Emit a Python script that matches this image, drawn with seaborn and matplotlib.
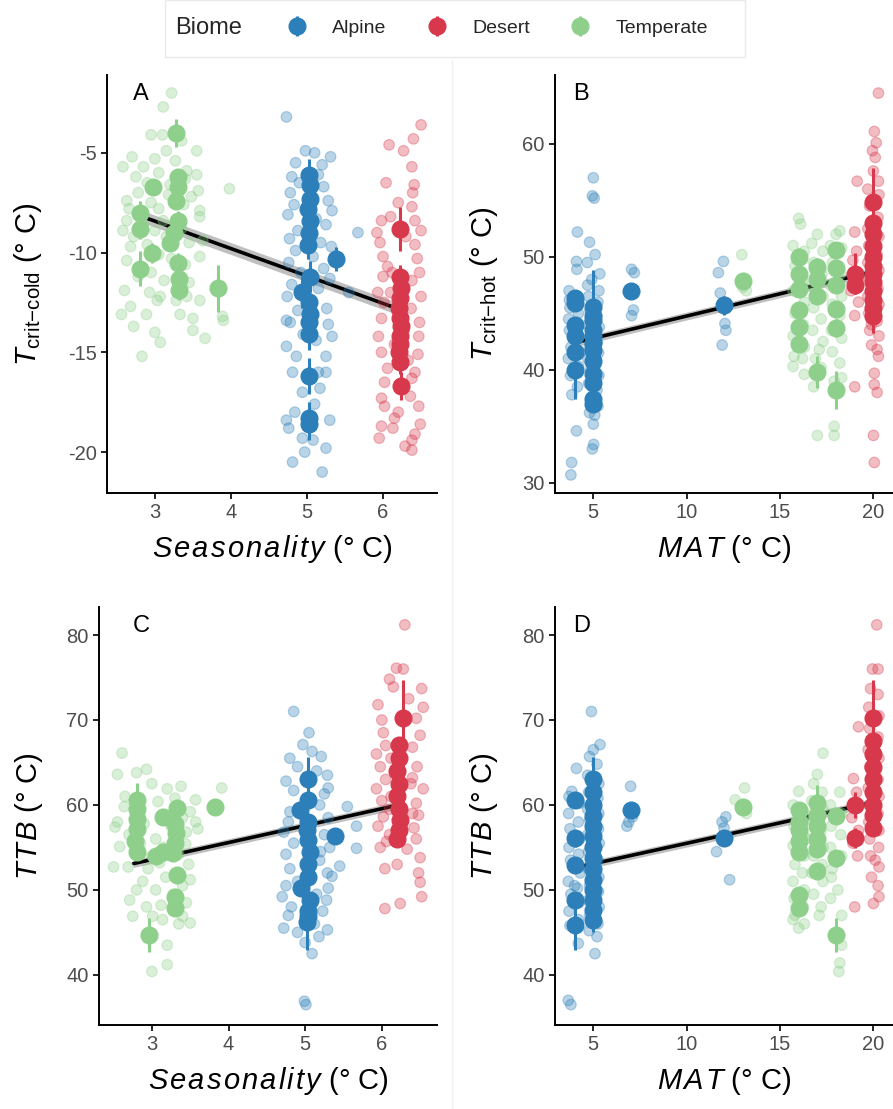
import numpy as np
import pandas as pd
import matplotlib
matplotlib.use("Agg")
import matplotlib.pyplot as plt
import seaborn as sns
from matplotlib.lines import Line2D
from matplotlib.patches import Rectangle

# colours for the three biomes
PALETTE = {"Alpine": "#2C7FB8", "Desert": "#D7384B", "Temperate": "#8ED08B"}
BIOMES = ["Alpine", "Desert", "Temperate"]

# ---------------- Panel A: Tcrit-cold vs seasonality ----------------
a_alpine = [(4.73,-3.2),(4.98,-4.9),(5.31,-5.2),(5.10,-5.0),(4.85,-5.5),(5.20,-5.6),(4.80,-6.2),
            (5.22,-6.7),(4.90,-6.5),(5.15,-6.1),(4.78,-7.0),(5.05,-7.2),(5.28,-7.4),(4.83,-7.6),
            (5.33,-7.9),(4.75,-8.1),(5.12,-8.3),(5.25,-8.6),(4.88,-8.9),(5.67,-9.0),(4.77,-9.3),
            (5.18,-9.5),(5.32,-9.7),(4.85,-9.9),(5.08,-10.2),(4.76,-10.5),(5.22,-10.8),(4.92,-11.0),
            (5.30,-11.3),(4.80,-11.6),(5.15,-11.8),(5.55,-12.0),(4.74,-12.2),(5.05,-12.5),(5.26,-12.8),
            (4.73,-13.4),(4.78,-13.5),(5.33,-14.2),(4.73,-14.7),(4.81,-16.0),(4.86,-15.2),(5.25,-15.2),
            (5.15,-16.0),(5.25,-16.0),(4.94,-17.0),(5.17,-16.8),(4.73,-18.4),(4.76,-18.8),(4.94,-19.3),
            (5.08,-19.4),(5.25,-19.8),(4.97,-20.0),(4.81,-20.5),(5.20,-21.0),(5.02,-13.0),(4.95,-14.1),
            (5.12,-14.4),(5.28,-13.6),(4.88,-12.9),(5.10,-17.6),(4.84,-18.0),(5.30,-18.4)]
a_desert = [(6.50,-3.6),(6.40,-4.3),(6.08,-4.6),(6.27,-4.9),(6.38,-5.7),(6.04,-6.5),(6.41,-6.6),
            (6.39,-7.0),(6.20,-7.5),(6.38,-7.7),(5.98,-8.4),(6.10,-8.2),(6.42,-8.4),(6.50,-8.9),
            (5.92,-9.0),(5.96,-9.5),(6.00,-10.2),(6.06,-10.7),(6.42,-9.6),(6.45,-10.3),(5.93,-12.0),
            (6.01,-12.5),(6.38,-11.4),(6.50,-12.2),(6.37,-12.8),(5.98,-13.3),(6.48,-13.5),(5.94,-14.2),
            (6.47,-14.2),(5.98,-15.0),(6.46,-15.1),(6.06,-15.8),(6.42,-16.0),(6.02,-16.5),(6.38,-16.3),
            (5.98,-17.3),(6.36,-17.2),(6.20,-18.0),(6.02,-17.7),(6.47,-17.7),(5.98,-18.7),(6.13,-18.8),
            (6.49,-18.6),(5.95,-19.3),(6.42,-19.1),(6.38,-19.4),(6.29,-19.7),(6.38,-19.9),(6.15,-18.3),
            (6.30,-9.2),(6.12,-11.0),(6.28,-13.9),(6.15,-14.6),(6.33,-15.4),(6.10,-12.0),(6.48,-11.0),
            (6.00,-11.2)]
a_temperate = [(3.22,-2.0),(3.11,-2.7),(2.95,-4.1),(3.10,-4.1),(3.15,-4.9),(3.55,-4.9),(3.00,-5.3),
               (2.58,-5.7),(2.85,-5.7),(3.27,-5.4),(3.42,-5.9),(3.98,-6.8),(3.57,-6.9),(2.63,-7.4),
               (2.66,-7.8),(3.59,-7.9),(3.11,-8.4),(3.59,-8.2),(2.63,-8.4),(2.58,-8.9),(2.68,-9.7),
               (3.63,-9.4),(3.59,-10.2),(2.63,-10.4),(2.60,-11.9),(2.68,-12.7),(3.07,-12.2),(3.59,-12.4),
               (3.89,-13.2),(2.56,-13.1),(2.72,-13.7),(2.89,-13.1),(3.00,-14.0),(3.07,-14.5),(2.83,-15.2),
               (3.03,-12.4),(3.33,-13.1),(3.50,-13.3),(3.50,-13.9),(3.66,-14.3),(3.90,-13.4),(3.42,-12.2),
               (2.75,-6.2),(2.90,-6.5),(3.05,-6.0),(3.20,-6.6),(3.40,-6.3),(3.48,-7.2),(2.78,-7.0),
               (2.95,-7.5),(3.05,-7.8),(3.18,-7.1),(3.38,-7.6),(2.85,-8.6),(3.00,-8.9),(3.15,-9.2),
               (3.35,-8.8),(3.45,-9.5),(2.72,-9.2),(2.90,-9.6),(3.05,-10.1),(3.22,-10.3),(3.40,-10.6),
               (2.78,-11.2),(2.95,-11.0),(3.12,-11.4),(3.45,-11.5),(3.28,-12.4),(2.93,-12.0),(3.55,-6.1),
               (2.70,-5.2),(3.35,-4.4)]
# species means: (x, mean, se)
a_mean_alpine = [(5.03,-6.1,0.8),(5.04,-6.6,0.7),(5.04,-7.3,0.7),(5.02,-7.8,0.7),(5.04,-8.4,0.7),
                 (5.03,-9.0,0.7),(5.02,-9.6,0.7),(5.04,-11.2,0.8),(4.94,-12.0,0.8),(5.03,-12.5,0.8),
                 (5.04,-13.1,0.7),(5.03,-13.5,0.7),(5.03,-14.1,0.8),(5.03,-16.2,0.9),(5.03,-18.3,0.8),
                 (5.03,-18.6,0.8),(5.38,-10.3,0.6)]
a_mean_desert = [(6.22,-8.8,1.1),(6.22,-11.2,0.6),(6.23,-11.8,0.6),(6.22,-12.3,0.6),(6.21,-12.8,0.6),
                 (6.22,-13.3,0.6),(6.23,-13.7,0.6),(6.22,-14.2,0.6),(6.22,-14.6,0.6),(6.21,-15.0,0.6),
                 (6.22,-15.5,0.6),(6.23,-16.7,0.7)]
a_mean_temperate = [(3.28,-4.0,0.7),(2.97,-6.7,0.4),(2.80,-8.0,0.6),(2.80,-8.8,0.5),(2.96,-10.0,0.5),
                    (2.80,-10.8,0.9),(3.30,-6.2,0.4),(3.30,-6.7,0.4),(3.28,-7.4,0.4),(3.30,-8.4,0.5),
                    (3.25,-9.0,0.5),(3.20,-9.5,0.4),(3.30,-10.5,0.5),(3.32,-11.3,0.5),(3.32,-11.9,0.5),
                    (3.83,-11.8,1.2)]
a_fit_x = [2.80, 6.22]
a_fit_y = [-8.15, -12.85]

# ---------------- Panel B: Tcrit-hot vs MAT ----------------
b_alpine = [(3.84,31.8),(3.80,30.7),(4.10,34.6),(5.00,35.2),(5.02,33.4),(4.95,33.0),(5.00,57.0),
            (4.95,55.4),(5.05,55.2),(4.15,52.2),(4.80,51.3),(4.10,49.6),(4.12,48.9),(7.05,48.9),
            (7.20,48.6),(7.05,44.8),(7.15,45.3),(11.97,49.6),(11.70,48.6),(11.80,46.8),(12.05,44.1),
            (12.10,43.5),(11.90,42.2),(3.70,47.0),(3.75,45.5),(3.68,44.5),(4.20,45.0),(3.72,43.5),
            (4.25,43.0),(3.80,42.0),(4.30,41.5),(3.66,41.0),(4.22,40.3),(3.78,39.5),(4.15,38.5),
            (3.85,37.8),(3.72,46.2),(4.70,47.5),(5.30,47.0),(4.75,46.5),(5.25,46.0),(4.82,45.2),
            (5.18,44.8),(4.72,44.0),(5.32,43.8),(4.88,43.0),(5.22,42.5),(4.78,42.0),(5.28,41.5),
            (4.70,41.0),(5.15,40.5),(4.85,40.0),(5.30,39.5),(4.75,38.8),(5.20,38.2),(4.90,37.5),
            (5.25,36.8),(4.80,36.2),(5.35,48.5),(4.68,49.5),(5.10,50.2),(4.92,48.0),(5.08,36.0)]
b_desert = [(19.00,52.2),(19.10,50.5),(18.90,49.7),(19.00,44.8),(19.00,38.5),(20.27,64.5),(20.05,61.1),
            (20.15,60.1),(19.95,59.4),(20.10,58.8),(20.00,57.6),(20.27,56.7),(19.13,56.7),(20.20,41.8),
            (20.27,41.2),(20.05,39.7),(20.05,38.7),(20.20,38.0),(20.00,34.2),(20.05,31.8),(19.70,56.0),
            (20.30,55.5),(19.80,54.5),(20.25,53.5),(19.70,52.5),(20.30,51.8),(19.75,51.0),(20.20,50.2),
            (19.70,49.5),(20.30,48.8),(19.80,48.0),(20.25,47.2),(19.70,46.5),(20.30,45.8),(19.75,45.0),
            (20.20,44.3),(19.80,43.5),(20.30,43.0),(19.90,42.2),(20.10,53.0),(19.90,50.0),(20.15,47.0),
            (19.90,44.0),(19.20,48.0),(18.80,47.0),(19.20,46.0)]
b_temperate = [(12.95,50.2),(13.00,47.3),(13.20,47.0),(16.00,53.4),(16.10,52.9),(17.00,52.0),(18.00,52.0),
               (18.20,52.3),(15.70,40.3),(16.30,39.6),(17.00,34.2),(17.90,35.0),(17.90,34.2),(17.80,41.6),
               (18.20,40.6),(18.30,39.3),(15.70,51.0),(16.30,50.5),(15.80,49.2),(16.20,48.0),(15.70,47.0),
               (16.30,46.0),(15.80,45.0),(16.25,44.0),(15.70,43.0),(16.30,42.0),(15.75,41.2),(16.20,41.0),
               (15.90,50.0),(16.70,51.2),(17.30,50.5),(16.80,49.5),(17.25,48.5),(16.70,47.5),(17.30,46.5),
               (16.80,45.5),(17.20,44.5),(16.75,43.5),(17.30,42.5),(17.10,41.8),(16.90,41.0),(17.20,40.2),
               (16.80,38.5),(17.70,51.0),(18.30,50.8),(17.80,49.5),(18.25,48.5),(17.70,47.5),(18.30,46.5),
               (17.80,45.8),(18.20,44.8),(17.75,43.5),(18.30,42.8),(17.90,39.0),(18.10,38.0)]
b_mean_alpine = [(4.0,46.4,0.7),(4.0,45.9,0.6),(4.0,44.0,0.6),(4.0,43.0,0.6),(4.0,41.6,0.7),(4.0,40.0,2.6),
                 (5.0,45.6,3.2),(5.0,44.8,0.7),(5.0,44.4,0.7),(5.0,43.5,0.7),(5.0,43.0,0.7),(5.0,42.4,0.7),
                 (5.0,41.8,0.7),(5.0,40.8,0.7),(5.0,39.6,0.7),(5.0,38.8,0.7),(5.0,37.4,0.7),(5.0,37.0,0.7),
                 (7.0,47.0,0.4),(12.0,45.7,0.8)]
b_mean_desert = [(19.0,48.5,1.8),(19.0,47.5,0.8),(20.0,54.9,3.0),(20.0,53.0,0.9),(20.0,52.0,0.9),
                 (20.0,51.0,0.9),(20.0,50.0,0.9),(20.0,49.2,0.9),(20.0,48.5,0.9),(20.0,47.8,0.9),
                 (20.0,47.0,0.9),(20.0,46.2,0.9),(20.0,45.5,0.9),(20.0,44.8,1.5)]
b_mean_temperate = [(13.0,47.9,0.4),(16.0,50.0,0.8),(16.0,48.5,0.6),(16.0,47.2,0.6),(16.0,45.3,0.6),
                    (16.0,43.8,0.6),(16.0,42.3,0.7),(17.0,49.1,0.8),(17.0,48.0,0.6),(17.0,46.5,0.6),
                    (17.0,39.8,1.4),(18.0,50.6,0.7),(18.0,49.0,0.6),(18.0,47.5,0.6),(18.0,45.4,0.6),
                    (18.0,43.7,0.8),(18.0,38.2,1.7)]
b_fit_x = [4.0, 20.0]
b_fit_y = [42.4, 48.7]

# ---------------- Panel C: TTB vs seasonality ----------------
c_alpine = [(4.85,71.0),(4.97,67.1),(5.09,66.3),(5.21,65.7),(4.80,65.5),(5.29,63.5),(4.85,61.7),
            (5.25,61.3),(5.19,60.0),(4.80,59.2),(5.67,57.5),(5.67,54.9),(5.29,52.0),(5.35,51.6),
            (4.70,49.2),(4.72,45.5),(5.29,45.3),(5.23,47.5),(5.09,42.5),(4.99,36.9),(5.01,36.5),
            (4.80,52.5),(5.19,53.5),(4.75,62.8),(5.30,62.0),(4.90,64.5),(5.15,64.0),(4.78,58.0),
            (5.30,58.5),(4.72,56.8),(5.25,56.5),(4.85,55.5),(5.32,55.0),(4.75,54.2),(5.20,54.5),
            (4.90,51.0),(5.30,50.2),(4.75,50.5),(5.15,49.5),(4.82,48.0),(5.28,48.8),(4.78,47.0),
            (5.12,46.0),(4.90,45.0),(5.18,44.5),(5.00,43.8),(5.05,68.5),(5.55,59.8),(5.45,52.8)]
c_desert = [(6.30,81.2),(6.19,76.1),(6.28,76.0),(6.15,73.9),(6.52,73.7),(5.95,71.8),(6.54,71.5),
            (6.02,68.5),(6.50,68.2),(5.93,66.0),(6.46,64.5),(5.93,61.9),(6.54,61.9),(6.02,58.6),
            (6.48,58.8),(6.06,55.7),(6.45,56.0),(6.50,53.8),(6.48,52.0),(6.04,52.5),(6.50,50.9),
            (6.52,49.2),(6.04,47.8),(6.24,48.4),(6.20,53.0),(6.33,54.8),(6.00,70.0),(6.45,70.2),
            (6.05,67.0),(6.40,66.8),(5.98,64.5),(6.40,63.2),(6.05,63.0),(6.00,60.5),(6.45,60.2),
            (6.10,59.5),(5.95,57.5),(6.42,57.3),(6.10,56.5),(6.38,62.5),(6.12,65.5),(6.35,72.5),
            (6.10,74.8),(6.40,59.0),(5.98,55.0),(6.12,61.0)]
c_temperate = [(2.61,66.1),(2.55,63.6),(2.80,63.8),(2.93,64.2),(3.00,62.5),(3.20,61.9),(3.38,62.2),
               (3.91,62.0),(3.57,60.6),(2.55,58.0),(2.64,59.8),(3.08,60.4),(3.50,59.2),(3.57,58.0),
               (2.52,57.4),(2.58,55.1),(2.50,52.7),(2.69,52.7),(2.80,50.0),(2.71,48.8),(2.75,46.9),
               (2.93,48.0),(3.01,46.9),(3.14,46.5),(3.20,43.5),(3.20,41.2),(3.00,40.4),(3.35,46.0),
               (3.50,46.1),(3.40,46.9),(3.50,51.2),(3.48,53.0),(3.44,55.4),(3.60,57.2),(2.70,56.5),
               (2.90,57.8),(3.05,56.0),(3.15,55.0),(3.25,57.5),(3.40,58.5),(2.85,55.5),(3.00,54.0),
               (3.10,53.2),(3.35,54.2),(2.95,52.5),(3.18,51.5),(3.40,50.5),(2.88,51.0),(3.05,50.0),
               (3.28,49.5),(3.12,48.2),(3.45,48.5),(2.65,61.0),(3.30,60.8),(3.45,56.8)]
c_mean_alpine = [(5.04,63.1,2.6),(4.93,59.4,1.0),(5.04,60.6,0.8),(5.04,58.0,0.8),(5.02,57.0,0.8),
                 (5.04,55.9,0.8),(5.06,54.5,0.8),(5.04,53.0,0.8),(5.04,51.5,0.8),(4.95,50.2,0.8),
                 (5.06,48.8,0.8),(5.04,47.5,0.8),(5.04,46.9,0.8),(5.02,46.2,3.3),(5.39,56.3,0.6)]
c_mean_desert = [(6.28,70.2,4.5),(6.22,67.0,1.0),(6.22,65.5,1.0),(6.20,64.0,1.0),(6.22,62.5,1.0),
                 (6.20,61.0,1.0),(6.22,59.5,1.0),(6.24,58.2,1.0),(6.22,57.0,1.0),(6.20,56.0,1.0)]
c_mean_temperate = [(2.80,60.6,2.0),(2.80,59.5,1.0),(2.80,58.4,1.0),(2.80,57.2,1.0),(2.78,55.8,0.8),
                    (2.80,54.5,0.8),(3.15,58.6,0.7),(3.33,59.6,1.0),(3.30,57.8,0.8),(3.32,56.7,0.8),
                    (3.30,55.5,0.8),(3.28,54.3,0.6),(3.05,54.0,0.6),(3.15,54.5,0.6),(3.33,51.8,0.8),
                    (3.30,49.2,0.8),(3.30,47.9,0.8),(3.83,59.8,0.5),(2.96,44.7,2.0)]
c_fit_x = [2.76, 6.22]
c_fit_y = [53.1, 60.0]

# ---------------- Panel D: TTB vs MAT ----------------
d_alpine = [(3.70,61.0),(3.85,61.6),(4.10,64.3),(4.25,60.2),(3.68,59.0),(4.20,58.0),(3.75,57.2),
            (4.28,56.0),(3.70,55.0),(4.22,54.2),(3.78,53.5),(4.30,52.0),(3.66,51.0),(4.15,50.2),
            (3.80,49.5),(4.25,48.5),(3.70,47.5),(4.20,46.5),(3.75,45.8),(4.20,43.7),(3.66,37.0),
            (3.80,36.5),(4.00,50.5),(4.90,71.0),(5.36,67.1),(5.00,66.5),(4.80,65.7),(5.20,64.8),
            (4.70,63.5),(5.30,62.5),(4.75,61.5),(5.25,60.8),(4.70,59.5),(5.30,59.0),(4.80,58.2),
            (5.28,57.2),(4.70,56.5),(5.32,55.5),(4.75,54.5),(5.25,53.5),(4.72,52.5),(5.30,51.5),
            (4.80,50.5),(5.28,49.8),(4.72,48.8),(5.32,48.0),(4.80,47.0),(5.25,46.0),(4.78,45.2),
            (5.20,44.5),(5.09,42.5),(5.00,57.8),(5.10,52.0),(7.00,62.2),(6.90,58.0),(6.80,57.5),
            (7.10,58.6),(12.10,58.6),(11.90,58.0),(12.30,51.2),(11.60,54.5),(12.00,57.3)]
d_desert = [(18.93,63.1),(19.20,69.2),(19.10,61.5),(18.85,58.5),(19.20,57.0),(18.90,55.5),(19.15,54.0),
            (19.00,48.0),(20.18,81.2),(19.95,76.0),(20.25,76.0),(19.85,73.7),(20.25,73.0),(19.75,71.5),
            (20.30,70.5),(19.80,69.0),(20.25,68.0),(19.72,66.5),(20.30,65.5),(19.80,64.5),(20.25,63.0),
            (19.72,62.0),(20.30,61.0),(19.80,60.0),(20.25,59.0),(19.75,58.0),(20.30,57.0),(19.80,56.0),
            (20.28,55.0),(19.85,54.0),(20.30,52.7),(19.90,51.5),(20.25,50.5),(20.00,48.4),(20.30,49.2),
            (20.10,53.5)]
d_temperate = [(13.10,62.0),(12.60,60.6),(13.20,59.0),(16.00,61.6),(15.70,60.0),(16.30,59.0),(15.75,57.5),
               (16.25,56.5),(15.70,55.2),(16.30,54.0),(15.80,53.0),(16.20,52.0),(15.70,51.0),(16.30,50.0),
               (15.75,49.0),(16.25,48.0),(15.80,47.0),(16.30,46.0),(15.70,46.5),(16.00,45.5),(17.30,66.1),
               (17.00,63.6),(16.80,62.5),(17.25,61.5),(16.70,60.5),(17.30,59.5),(16.75,58.2),(17.20,57.0),
               (16.70,56.0),(17.30,55.0),(16.80,54.0),(17.25,53.0),(16.70,52.0),(17.30,51.0),(16.80,49.5),
               (17.20,48.0),(17.10,47.0),(18.20,61.5),(17.70,60.0),(18.30,59.0),(17.75,57.5),(18.25,56.5),
               (17.70,55.0),(18.30,54.0),(17.80,52.5),(18.10,50.0),(17.70,49.0),(18.30,43.5),(18.20,41.4),
               (18.15,40.4),(17.75,51.5),(18.30,47.0)]
d_mean_alpine = [(4.0,60.6,0.8),(4.0,56.1,1.0),(4.0,52.9,0.9),(4.0,48.8,1.0),(4.0,45.9,3.0),
                 (5.0,63.1,2.6),(5.0,61.5,0.8),(5.0,60.0,0.8),(5.0,58.7,0.8),(5.0,57.5,0.8),(5.0,56.3,0.8),
                 (5.0,55.0,0.8),(5.0,53.8,0.8),(5.0,52.5,0.8),(5.0,51.2,0.8),(5.0,50.0,0.8),(5.0,48.8,0.8),
                 (5.0,47.6,0.8),(5.0,46.5,1.5),(7.0,59.4,0.6),(12.0,56.1,0.6)]
d_mean_desert = [(19.0,60.0,1.5),(19.0,56.1,1.2),(20.0,70.2,4.5),(20.0,67.5,1.0),(20.0,66.0,1.0),
                 (20.0,64.5,1.0),(20.0,63.0,1.0),(20.0,61.5,1.0),(20.0,60.0,1.0),(20.0,58.8,1.0),
                 (20.0,57.3,1.0)]
d_mean_temperate = [(13.0,59.8,0.4),(16.0,59.4,0.8),(16.0,58.0,0.8),(16.0,57.0,0.8),(16.0,55.8,0.8),
                    (16.0,54.5,0.8),(16.0,49.4,0.8),(16.0,47.9,0.8),(17.0,60.2,2.2),(17.0,58.8,0.8),
                    (17.0,57.5,0.8),(17.0,56.0,0.8),(17.0,54.8,0.8),(17.0,52.2,0.8),(18.0,58.7,0.8),
                    (18.0,53.7,1.0),(18.0,44.7,2.0)]
d_fit_x = [4.0, 20.0]
d_fit_y = [52.6, 60.3]


def to_frame(groups):
    rows = []
    for biome, pts in groups.items():
        for x, y in pts:
            rows.append((biome, x, y))
    return pd.DataFrame(rows, columns=["biome", "x", "y"])


def spaced(word, gap=0.09):
    # italic word with a little letter spacing, like R plotmath italics
    sep = r"\hspace{%.2f}" % gap
    return "$" + sep.join(r"\mathit{%s}" % ch for ch in word) + "$"


def draw_panel(ax, raw, means, fit_x, fit_y, band, letter, letter_x, xlim, ylim, xticks, yticks):
    fy = np.array(fit_y)
    ax.fill_between(fit_x, fy - band, fy + band, color="#8c8c8c", alpha=0.55, lw=0, zorder=1)
    ax.plot(fit_x, fit_y, color="black", lw=2.6, zorder=1.5)

    df = to_frame(raw)
    sns.scatterplot(data=df, x="x", y="y", hue="biome", palette=PALETTE, s=58,
                    alpha=0.33, edgecolor="face", linewidth=0.9, legend=False, ax=ax, zorder=2)

    handles = {}
    for biome in BIOMES:
        m = np.array(means[biome])
        h = ax.errorbar(m[:, 0], m[:, 1], yerr=m[:, 2], fmt="o", color=PALETTE[biome],
                        ms=12, elinewidth=2.2, capsize=0, zorder=3)
        handles[biome] = h

    ax.set_xlim(*xlim)
    ax.set_ylim(*ylim)
    ax.set_xticks(xticks)
    ax.set_yticks(yticks)
    sns.despine(ax=ax)
    for sp in ["left", "bottom"]:
        ax.spines[sp].set_linewidth(1.4)
        ax.spines[sp].set_color("black")
    ax.tick_params(length=4, width=1.2, color="black", labelcolor="#4D4D4D", labelsize=14.5)
    ax.text(letter_x, 0.955, letter, transform=ax.transAxes, fontsize=17,
            ha="left", va="center", color="black")
    return handles


sns.set_theme(style="ticks")
plt.rcParams["font.family"] = ["Liberation Sans", "DejaVu Sans"]
plt.rcParams["mathtext.fontset"] = "custom"
plt.rcParams["mathtext.rm"] = "Liberation Sans"
plt.rcParams["mathtext.it"] = "Liberation Sans:italic"
plt.rcParams["mathtext.bf"] = "Liberation Sans:bold"
plt.rcParams["axes.unicode_minus"] = False

fig = plt.figure(figsize=(8.93, 11.09), dpi=100)
H = 1109.0
W = 893.0
ax_a = fig.add_axes([107 / W, 1 - 493 / H, 330 / W, 418 / H])
ax_b = fig.add_axes([555 / W, 1 - 493 / H, 338 / W, 418 / H])
ax_c = fig.add_axes([99 / W, 1 - 1025 / H, 338 / W, 418 / H])
ax_d = fig.add_axes([555 / W, 1 - 1025 / H, 338 / W, 418 / H])

handles = draw_panel(ax_a, {"Temperate": a_temperate, "Alpine": a_alpine, "Desert": a_desert},
                     {"Alpine": a_mean_alpine, "Desert": a_mean_desert, "Temperate": a_mean_temperate},
                     a_fit_x, a_fit_y, 0.3, "A", 0.08, (2.37, 6.71), (-22.05, -1.1),
                     [3, 4, 5, 6], [-20, -15, -10, -5])
draw_panel(ax_b, {"Alpine": b_alpine, "Temperate": b_temperate, "Desert": b_desert},
           {"Alpine": b_mean_alpine, "Desert": b_mean_desert, "Temperate": b_mean_temperate},
           b_fit_x, b_fit_y, 0.35, "B", 0.053, (2.95, 21.05), (29.1, 66.1),
           [5, 10, 15, 20], [30, 40, 50, 60])
draw_panel(ax_c, {"Temperate": c_temperate, "Alpine": c_alpine, "Desert": c_desert},
           {"Alpine": c_mean_alpine, "Desert": c_mean_desert, "Temperate": c_mean_temperate},
           c_fit_x, c_fit_y, 0.45, "C", 0.10, (2.31, 6.72), (34.1, 83.3),
           [3, 4, 5, 6], [40, 50, 60, 70, 80])
draw_panel(ax_d, {"Alpine": d_alpine, "Temperate": d_temperate, "Desert": d_desert},
           {"Alpine": d_mean_alpine, "Desert": d_mean_desert, "Temperate": d_mean_temperate},
           d_fit_x, d_fit_y, 0.45, "D", 0.053, (2.95, 21.05), (34.1, 83.3),
           [5, 10, 15, 20], [40, 50, 60, 70, 80])

lab_kw = dict(fontsize=21, color="black")
ax_a.set_ylabel(r"$\mathit{T}_{\mathrm{crit{-}cold}}$" + " (° C)", **lab_kw)
ax_b.set_ylabel(r"$\mathit{T}_{\mathrm{crit{-}hot}}$" + " (° C)", **lab_kw)
ax_c.set_ylabel(spaced("TTB") + " (° C)", **lab_kw)
ax_d.set_ylabel(spaced("TTB") + " (° C)", **lab_kw)
ax_a.set_xlabel(spaced("Seasonality") + " (° C)", **lab_kw)
ax_c.set_xlabel(spaced("Seasonality") + " (° C)", **lab_kw)
ax_b.set_xlabel(spaced("MAT") + " (° C)", **lab_kw)
ax_d.set_xlabel(spaced("MAT") + " (° C)", **lab_kw)
ax_a.yaxis.set_label_coords(-0.19, 0.5)
ax_c.yaxis.set_label_coords(-0.16, 0.5)
ax_b.yaxis.set_label_coords(-0.163, 0.5)
ax_d.yaxis.set_label_coords(-0.163, 0.5)
for ax in (ax_a, ax_b, ax_c, ax_d):
    ax.xaxis.set_label_coords(0.5, -0.095)

# faint panel separators and legend box
fig.add_artist(Rectangle((165 / W, 1 - 57 / H), 580 / W, 57 / H, transform=fig.transFigure,
                         facecolor="white", edgecolor="#EAEAEA", lw=1.0, zorder=0))
fig.add_artist(Line2D([452 / W, 452 / W], [0, 1 - 60 / H], transform=fig.transFigure,
                      color="#F2F2F2", lw=1.0, zorder=0))

fig.text(175 / W, 1 - 28 / H, "Biome", fontsize=17, ha="left", va="center")
fig.legend([handles[b] for b in BIOMES], BIOMES, loc="center left",
           bbox_to_anchor=(268 / W, 1 - 28 / H), ncol=3, frameon=False, fontsize=14,
           handlelength=1.2, handletextpad=1.2, columnspacing=2.0)

fig.savefig("out.png", dpi=100)
